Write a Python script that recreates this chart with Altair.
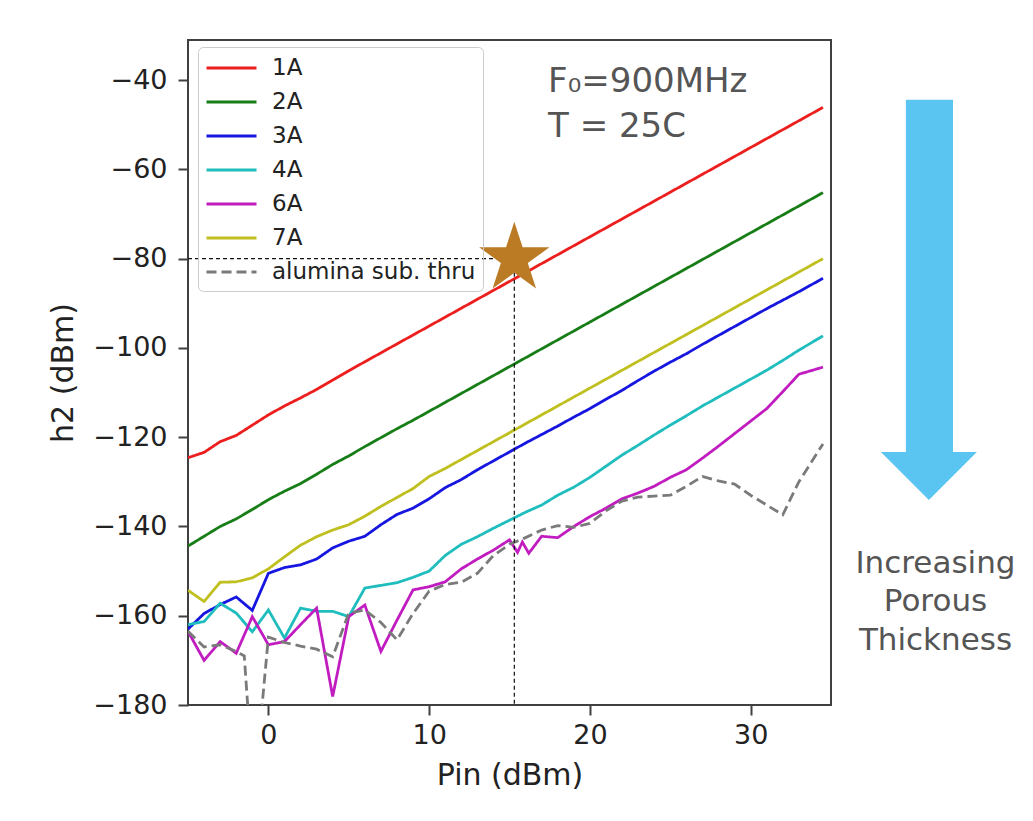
import altair as alt
import pandas as pd

# ---------------- data ----------------
series_names = ["1A", "2A", "3A", "4A", "6A", "7A", "alumina sub. thru"]
series_colors = ["#ec1e1e", "#177d17", "#1616e0", "#1fbdbd", "#c01cc0", "#bfbf1f", "#7a7a7a"]
series_dash = [[1, 0], [1, 0], [1, 0], [1, 0], [1, 0], [1, 0], [10, 5]]

pin = [-5, -4, -3, -2, -1, 0, 1, 2, 3, 4, 5, 6, 7, 8, 9, 10, 11, 12, 13, 14,
       15, 16, 17, 18, 19, 20, 21, 22, 23, 24, 25, 26, 27, 28, 29, 30, 31, 32, 33, 34.5]

h2_1a = [-124.6, -123.4, -121.0, -119.6, -117.3, -115.0, -113.0, -111.2, -109.3, -107.2,
         -105.1, -103.1, -101.1, -99.1, -97.1, -95.1, -93.1, -91.1, -89.1, -87.1,
         -85.1, -83.1, -81.1, -79.1, -77.1, -75.1, -73.1, -71.1, -69.1, -67.1,
         -65.1, -63.1, -61.1, -59.1, -57.1, -55.1, -53.1, -51.1, -49.1, -46.1]
h2_2a = [-144.4, -142.2, -140.0, -138.3, -136.2, -134.0, -132.1, -130.4, -128.3, -126.1,
         -124.2, -122.1, -120.1, -118.1, -116.2, -114.2, -112.2, -110.2, -108.2, -106.2,
         -104.2, -102.2, -100.2, -98.2, -96.2, -94.2, -92.2, -90.2, -88.2, -86.2,
         -84.2, -82.2, -80.2, -78.2, -76.2, -74.2, -72.2, -70.2, -68.2, -65.2]
h2_3a = [-163.0, -159.5, -157.5, -155.8, -158.8, -150.5, -149.2, -148.6, -147.3, -144.8,
         -143.3, -142.2, -139.6, -137.3, -135.9, -133.8, -131.3, -129.5, -127.3, -125.3,
         -123.3, -121.3, -119.4, -117.5, -115.5, -113.6, -111.5, -109.5, -107.3, -105.2,
         -103.2, -101.3, -99.2, -97.2, -95.2, -93.2, -91.2, -89.3, -87.4, -84.4]
h2_4a = [-162.0, -161.3, -157.2, -159.4, -163.6, -158.7, -165.0, -158.3, -159.0, -159.0,
         -160.2, -153.8, -153.2, -152.6, -151.4, -150.0, -146.5, -144.0, -142.3, -140.4,
         -138.6, -136.8, -135.2, -133.0, -131.2, -129.0, -126.5, -124.0, -121.8, -119.5,
         -117.3, -115.2, -113.0, -111.0, -109.0, -107.0, -105.0, -102.8, -100.5, -97.3]
h2_7a = [-154.3, -156.8, -152.5, -152.4, -151.5, -149.5, -146.8, -144.2, -142.3, -140.8,
         -139.6, -137.7, -135.5, -133.5, -131.5, -128.8, -127.0, -125.0, -123.0, -121.0,
         -119.0, -117.0, -115.0, -113.0, -111.0, -109.0, -107.0, -105.0, -103.0, -101.0,
         -99.0, -97.0, -95.0, -93.0, -91.0, -89.0, -87.0, -85.0, -83.0, -80.0]

pin_6a = [-5, -4, -3, -2, -1, 0, 1, 2, 3, 4, 5, 6, 7, 8, 9, 10, 11, 12, 13, 14, 15,
          15.5, 15.8, 16.2, 17, 18, 19, 20, 21, 22, 23, 24, 25, 26, 27, 28, 29, 30, 31, 32, 33, 34.5]
h2_6a = [-163.5, -170.0, -165.8, -168.4, -160.2, -166.5, -165.8, -162.0, -158.3, -178.1,
         -160.2, -157.6, -168.0, -161.0, -154.2, -153.5, -152.4, -149.5, -147.3, -145.3, -143.0,
         -145.8, -143.5, -146.0, -142.2, -142.5, -140.0, -137.8, -135.9, -133.8, -132.5,
         -131.0, -129.0, -127.3, -124.7, -122.0, -119.2, -116.4, -113.6, -109.8, -105.9, -104.3]

pin_alumina = [-5, -4, -3, -2, -1.5, -0.9, 0, 1, 2, 3, 4, 5, 6, 7, 8, 9, 10, 11, 12, 13, 14,
               15, 16, 17, 18, 19, 20, 21, 22, 23, 24, 25, 26, 27, 28, 29, 30, 31, 32, 33, 34.5]
h2_alumina = [-163.5, -167.0, -166.5, -168.0, -169.0, -200.0, -164.8, -166.0, -166.8, -167.5,
              -169.2, -159.4, -158.7, -161.5, -165.4, -159.5, -154.5, -153.0, -152.5, -150.5,
              -146.5, -144.0, -142.5, -140.8, -139.8, -140.2, -139.3, -136.5, -134.3, -133.4,
              -133.2, -133.0, -131.0, -128.8, -129.8, -130.5, -133.0, -135.2, -137.4, -130.0, -121.5]

x_ticks = [0, 10, 20, 30]
y_ticks = [-40, -60, -80, -100, -120, -140, -160, -180]

# annotation: operating point marked by the star
star_pin = [15.3]
star_h2 = [-80.0]
STAR_PATH = ("M0,-1L0.2245,-0.309L0.9511,-0.309L0.3633,0.118L0.5878,0.809L0,0.382"
             "L-0.5878,0.809L-0.3633,0.118L-0.9511,-0.309L-0.2245,-0.309Z")

# right-hand arrow (data coordinates, outside the plot frame)
arrow_left, arrow_right, arrow_mid = 39.66, 42.59, 41.09
arrow_top, arrow_base = -44.4, -123.3
side_text = ["Increasing", "Porous", "Thickness"]
side_text_h2 = -150.4      # baseline of the first line
side_text_pin = 41.5

cond_text = ["F\u2080=900MHz", "T = 25C"]
cond_text_h2 = -42.7       # baseline of the first line
cond_text_pin = 17.4

# ---------------- tables ----------------
rows = []
for name, xs, ys in [("1A", pin, h2_1a), ("2A", pin, h2_2a), ("3A", pin, h2_3a),
                     ("4A", pin, h2_4a), ("6A", pin_6a, h2_6a), ("7A", pin, h2_7a),
                     ("alumina sub. thru", pin_alumina, h2_alumina)]:
    for xv, yv in zip(xs, ys):
        rows.append({"series": name, "pin": xv, "h2": yv})
df = pd.DataFrame(rows)

xscale = alt.Scale(domain=[-5, 35], nice=False, zero=False)
yscale = alt.Scale(domain=[-180, -31], nice=False, zero=False)

lines = alt.Chart(df).mark_line(strokeWidth=2.8, clip=True).encode(
    x=alt.X("pin:Q", scale=xscale, title="Pin (dBm)", axis=alt.Axis(values=x_ticks)),
    y=alt.Y("h2:Q", scale=yscale, title="h2 (dBm)", axis=alt.Axis(values=y_ticks)),
    color=alt.Color("series:N", title=None,
                    scale=alt.Scale(domain=series_names, range=series_colors),
                    sort=series_names),
    strokeDash=alt.StrokeDash("series:N", title=None,
                              scale=alt.Scale(domain=series_names, range=series_dash),
                              sort=series_names),
)

hline_df = pd.DataFrame({"pin": [-5.0], "pin2": star_pin, "h2": star_h2})
vline_df = pd.DataFrame({"pin": star_pin, "h2": star_h2, "h22": [-180.0]})
hline = alt.Chart(hline_df).mark_rule(color="#111", strokeWidth=1.2, strokeDash=[4, 3]).encode(
    x="pin:Q", x2="pin2:Q", y="h2:Q")
vline = alt.Chart(vline_df).mark_rule(color="#111", strokeWidth=1.2, strokeDash=[4, 3]).encode(
    x="pin:Q", y="h2:Q", y2="h22:Q")

star = alt.Chart(pd.DataFrame({"pin": star_pin, "h2": star_h2})).mark_point(
    shape=STAR_PATH, filled=True, color="#bb7b24", opacity=1, size=5476, strokeWidth=0
).encode(x="pin:Q", y="h2:Q")

shaft = alt.Chart(pd.DataFrame({"a": [arrow_left], "b": [arrow_right],
                                "t": [arrow_top], "u": [arrow_base]})).mark_rect(
    color="#5bc5f2").encode(x="a:Q", x2="b:Q", y="t:Q", y2="u:Q")
head = alt.Chart(pd.DataFrame({"pin": [arrow_mid], "h2": [arrow_base]})).mark_point(
    shape="M-1,0L1,0L0,1Z", filled=True, color="#5bc5f2", opacity=1, size=9216, strokeWidth=0
).encode(x="pin:Q", y="h2:Q")

side = alt.Chart(pd.DataFrame({"txt": ["\n".join(side_text)], "h2": [side_text_h2],
                               "pin": [side_text_pin]})).mark_text(
    font="DejaVu Sans", fontSize=31, color="#555555", align="center", baseline="alphabetic",
    lineBreak="\n", lineHeight=38.5
).encode(x="pin:Q", y="h2:Q", text="txt:N")

cond = alt.Chart(pd.DataFrame({"txt": ["\n".join(cond_text)], "h2": [cond_text_h2],
                               "pin": [cond_text_pin]})).mark_text(
    font="DejaVu Sans", fontSize=34, color="#555555", align="left", baseline="alphabetic",
    lineBreak="\n", lineHeight=44.4
).encode(x="pin:Q", y="h2:Q", text="txt:N")

chart = alt.layer(lines, hline, vline, star, shaft, head, side, cond).properties(
    width=643, height=665,
    padding={"left": 180, "top": 32, "right": 192, "bottom": 100},
    autosize=alt.AutoSizeParams(type="none"),
    background="white",
).configure_view(
    stroke="#404040", strokeWidth=2
).configure_axis(
    domain=False, grid=False, tickSize=10, tickWidth=2, tickColor="#404040",
    labelFont="DejaVu Sans", labelFontSize=27, labelColor="#222222",
    titleFont="DejaVu Sans", titleFontSize=30, titleFontWeight="normal", titleColor="#222222",
).configure_axisX(
    labelPadding=7, titlePadding=12
).configure_axisY(
    labelPadding=11, titlePadding=14
).configure_legend(
    orient="none", legendX=10, legendY=7,
    symbolType="M-1,0H3", symbolSize=625, symbolStrokeWidth=3,
    labelFont="DejaVu Sans", labelFontSize=23, labelColor="#222222", labelLimit=400,
    labelOffset=39, rowPadding=8, padding=7,
    strokeColor="#cccccc", cornerRadius=5,
)

chart.save("out.html", embed_options={"renderer": "svg", "actions": False})
